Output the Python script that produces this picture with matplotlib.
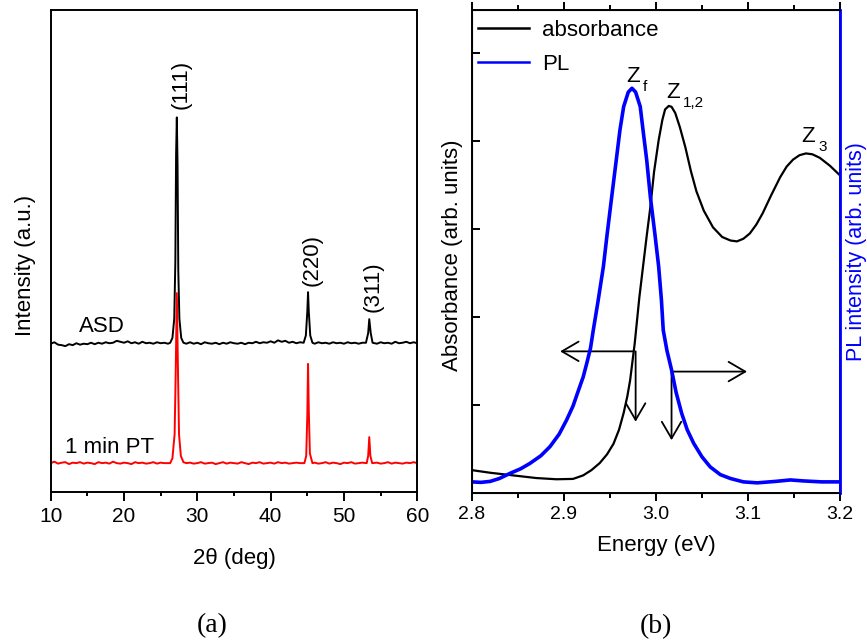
import numpy as np
import matplotlib
matplotlib.use('Agg')
import matplotlib.pyplot as plt

plt.rcParams['font.family'] = ['Liberation Sans', 'DejaVu Sans']

# ---- (a) XRD data (2theta in deg, intensity in a.u.) ----
asd_tt = [10.0, 10.5, 11.0, 11.5, 12.0, 12.5, 13.0, 13.5, 14.0, 14.5, 15.0, 15.5,
          16.0, 16.5, 17.0, 17.5, 18.0, 18.5, 19.0, 19.5, 20.0, 20.5, 21.0, 21.5,
          22.0, 22.5, 23.0, 23.5, 24.0, 24.5, 25.0, 25.5, 26.0, 26.3, 26.6, 26.85,
          27.0, 27.1, 27.2, 27.3, 27.4, 27.55, 27.8, 28.1, 28.5, 29.0, 29.5, 30.0,
          30.5, 31.0, 31.5, 32.0, 32.5, 33.0, 33.5, 34.0, 34.5, 35.0, 35.5, 36.0,
          36.5, 37.0, 37.5, 38.0, 38.5, 39.0, 39.5, 40.0, 40.5, 41.0, 41.5, 42.0,
          42.5, 43.0, 43.5, 44.0, 44.5, 44.8, 45.0, 45.1, 45.2, 45.4, 45.7, 46.0,
          46.5, 47.0, 47.5, 48.0, 48.5, 49.0, 49.5, 50.0, 50.5, 51.0, 51.5, 52.0,
          52.5, 53.0, 53.3, 53.45, 53.65, 53.9, 54.5, 55.0, 55.5, 56.0, 56.5, 57.0,
          57.5, 58.0, 58.5, 59.0, 59.5, 60.0]
asd_int = [30.8, 31.1, 30.6, 30.5, 30.3, 30.7, 30.5, 30.9, 30.6, 30.8, 30.7, 31.0,
           30.7, 31.0, 30.8, 31.1, 30.9, 31.0, 31.4, 31.2, 31.0, 31.3, 30.9, 31.1,
           30.8, 31.2, 30.9, 31.0, 30.8, 31.1, 30.9, 31.0, 30.8, 31.0, 32.0, 36.0,
           48.0, 70.0, 77.8, 68.0, 46.0, 36.0, 32.0, 31.0, 30.8, 31.1, 30.8, 31.0,
           30.7, 31.1, 30.9, 30.8, 31.0, 30.7, 31.0, 30.8, 31.1, 30.9, 30.8, 31.0,
           30.7, 31.0, 30.9, 31.2, 30.9, 31.1, 31.0, 31.3, 31.0, 31.5, 31.2, 31.4,
           31.0, 31.2, 30.9, 31.1, 31.0, 32.5, 37.5, 41.5, 37.5, 32.5, 31.0, 30.8,
           31.1, 30.9, 31.0, 30.8, 31.1, 30.9, 31.0, 30.8, 31.1, 30.9, 31.0, 30.8,
           31.0, 31.0, 33.0, 35.9, 33.0, 31.0, 30.8, 31.1, 30.9, 31.0, 30.8, 31.2,
           30.9, 31.0, 31.2, 30.9, 31.1, 30.9]

pt_tt = [10.0, 10.5, 11.0, 11.5, 12.0, 12.5, 13.0, 13.5, 14.0, 14.5, 15.0, 15.5,
         16.0, 16.5, 17.0, 17.5, 18.0, 18.5, 19.0, 19.5, 20.0, 20.5, 21.0, 21.5,
         22.0, 22.5, 23.0, 23.5, 24.0, 24.5, 25.0, 25.5, 26.0, 26.3, 26.6, 26.9,
         27.05, 27.2, 27.35, 27.5, 27.75, 28.1, 28.5, 29.0, 29.5, 30.0, 30.5, 31.0,
         31.5, 32.0, 32.5, 33.0, 33.5, 34.0, 34.5, 35.0, 35.5, 36.0, 36.5, 37.0,
         37.5, 38.0, 38.5, 39.0, 39.5, 40.0, 40.5, 41.0, 41.5, 42.0, 42.5, 43.0,
         43.5, 44.0, 44.6, 44.85, 45.0, 45.1, 45.2, 45.35, 45.7, 46.0, 46.5, 47.0,
         47.5, 48.0, 48.5, 49.0, 49.5, 50.0, 50.5, 51.0, 51.5, 52.0, 52.5, 53.1,
         53.3, 53.45, 53.6, 53.85, 54.5, 55.0, 55.5, 56.0, 56.5, 57.0, 57.5, 58.0,
         58.5, 59.0, 59.5, 60.0]
pt_int = [6.0, 6.3, 5.9, 6.1, 6.2, 5.8, 6.1, 6.0, 6.2, 5.9, 6.1, 6.0,
          5.8, 6.2, 6.0, 6.1, 5.9, 6.3, 6.0, 5.9, 6.1, 6.0, 5.8, 6.2,
          6.0, 6.1, 5.9, 6.0, 6.2, 5.9, 6.1, 6.0, 6.0, 6.0, 7.0, 12.0,
          25.0, 41.3, 26.0, 12.0, 7.5, 6.2, 6.0, 6.1, 5.9, 6.0, 6.2, 5.9,
          6.0, 6.1, 5.8, 6.0, 6.2, 5.9, 6.1, 6.0, 5.9, 6.2, 6.0, 5.8,
          6.1, 6.0, 6.2, 5.9, 6.0, 6.1, 5.9, 6.2, 6.0, 6.1, 5.9, 6.0,
          6.1, 6.0, 6.0, 7.5, 16.0, 26.6, 17.0, 8.0, 6.0, 6.1, 5.9, 6.0,
          6.2, 5.9, 6.1, 6.0, 5.8, 6.1, 6.0, 6.2, 5.9, 6.0, 6.1, 6.0,
          7.5, 11.4, 7.5, 6.0, 6.1, 5.9, 6.0, 6.2, 5.9, 6.1, 6.0, 5.9,
          6.1, 6.0, 6.2, 6.0]

# ---- (b) absorbance and PL ----
abs_e = [2.800, 2.820, 2.845, 2.870, 2.892, 2.910, 2.921, 2.930, 2.939, 2.947,
         2.954, 2.960, 2.965, 2.969, 2.972, 2.977, 2.982, 2.986, 2.990, 2.994,
         2.998, 3.003, 3.007, 3.010, 3.014, 3.017, 3.021, 3.026, 3.032, 3.038,
         3.044, 3.052, 3.062, 3.072, 3.081, 3.088, 3.095, 3.102, 3.109, 3.116,
         3.125, 3.135, 3.142, 3.149, 3.156, 3.163, 3.170, 3.178, 3.189, 3.200]
abs_val = [0.026, 0.023, 0.020, 0.017, 0.0156, 0.016, 0.020, 0.026, 0.034, 0.044,
           0.056, 0.072, 0.091, 0.110, 0.128, 0.170, 0.222, 0.257, 0.292, 0.325,
           0.365, 0.401, 0.424, 0.436, 0.440, 0.439, 0.432, 0.416, 0.393, 0.366,
           0.343, 0.321, 0.302, 0.291, 0.287, 0.286, 0.289, 0.295, 0.305, 0.318,
           0.338, 0.359, 0.371, 0.379, 0.384, 0.386, 0.385, 0.381, 0.372, 0.361]

pl_e = [2.800, 2.810, 2.820, 2.830, 2.842, 2.853, 2.863, 2.875, 2.885, 2.895,
        2.903, 2.910, 2.916, 2.921, 2.925, 2.929, 2.932, 2.937, 2.943, 2.947,
        2.952, 2.957, 2.961, 2.965, 2.970, 2.974, 2.978, 2.983, 2.986, 2.990,
        2.994, 2.999, 3.003, 3.006, 3.008, 3.012, 3.017, 3.022, 3.028, 3.034,
        3.041, 3.050, 3.059, 3.070, 3.081, 3.095, 3.110, 3.130, 3.146, 3.160,
        3.180, 3.200]
pl_val = [0.023, 0.022, 0.024, 0.030, 0.041, 0.050, 0.061, 0.077, 0.096, 0.122,
          0.151, 0.180, 0.213, 0.240, 0.269, 0.300, 0.337, 0.395, 0.469, 0.535,
          0.613, 0.690, 0.752, 0.800, 0.830, 0.838, 0.830, 0.800, 0.752, 0.690,
          0.613, 0.535, 0.469, 0.400, 0.337, 0.295, 0.255, 0.208, 0.165, 0.131,
          0.103, 0.075, 0.054, 0.038, 0.030, 0.023, 0.021, 0.024, 0.027, 0.025,
          0.023, 0.023]

fig = plt.figure(figsize=(8.67, 6.43), dpi=100)

# ================= panel (a) =================
axa = fig.add_axes([0.0585, 0.2348, 0.4228, 0.7489])
axa.plot(asd_tt, asd_int, color='black', lw=1.4)
axa.plot(pt_tt, pt_int, color='red', lw=1.4)
axa.set_xlim(10, 60)
axa.set_ylim(0, 100)
axa.set_xticks([10, 20, 30, 40, 50, 60])
axa.set_xticks([15, 25, 35, 45, 55], minor=True)
axa.set_yticks([])
axa.tick_params(axis='x', which='major', direction='out', length=6.5, width=1.4,
                labelsize=15, pad=4)
axa.tick_params(axis='x', which='minor', direction='out', length=3.2, width=1.4)
for s in axa.spines.values():
    s.set_linewidth(1.4)
axa.set_xlabel('2θ (deg)', fontsize=16)
axa.xaxis.set_label_coords(0.5, -0.117)
axa.set_ylabel('Intensity (a.u.)', fontsize=16)
axa.yaxis.set_label_coords(-0.04, 0.471)

axa.text(27.8, 79.5, '(111)', rotation=90, ha='center', va='bottom', fontsize=16)
axa.text(45.7, 42.8, '(220)', rotation=90, ha='center', va='bottom', fontsize=16)
axa.text(53.95, 37.4, '(311)', rotation=90, ha='center', va='bottom', fontsize=16)
axa.text(13.86, 33.2, 'ASD', ha='left', va='baseline', fontsize=16)
axa.text(11.95, 8.1, '1 min PT', ha='left', va='baseline', fontsize=16)

# ================= panel (b) =================
axb = fig.add_axes([0.5441, 0.2333, 0.4248, 0.7511])
l1, = axb.plot(abs_e, abs_val, color='black', lw=1.6, label='absorbance')
axb.set_xlim(2.8, 3.2)
axb.set_ylim(0, 0.549)
axb.set_xticks([2.8, 2.9, 3.0, 3.1, 3.2])
axb.set_xticklabels(['2.8', '2.9', '3.0', '3.1', '3.2'])
axb.set_xticks([2.85, 2.95, 3.05, 3.15], minor=True)
axb.set_yticks([0.1, 0.2, 0.3, 0.4, 0.5])
axb.set_yticklabels([])
axb.tick_params(axis='x', which='major', direction='out', length=6, width=1.4,
                labelsize=14, pad=3.5, top=True)
axb.tick_params(axis='x', which='minor', direction='out', length=3.5, width=1.4, top=True)
axb.tick_params(axis='y', direction='in', length=6, width=1.4)
for s in axb.spines.values():
    s.set_linewidth(1.4)
axb.set_xlabel('Energy (eV)', fontsize=16)
axb.xaxis.set_label_coords(0.5, -0.088)
axb.set_ylabel('Absorbance (arb. units)', fontsize=16)
axb.yaxis.set_label_coords(-0.023, 0.493)

axr = axb.twinx()
l2, = axr.plot(pl_e, pl_val, color='blue', lw=2.6, label='PL')
axr.set_ylim(0, 1)
axr.set_yticks([])
axr.spines['right'].set_color('blue')
axr.spines['right'].set_linewidth(2)
axr.set_ylabel('PL intensity (arb. units)', fontsize=15.5, color='blue')
axr.yaxis.set_label_coords(1.016, 0.5)

leg = axr.legend([l1, l2], ['absorbance', 'PL'], loc='upper left', frameon=False,
                 fontsize=16, borderaxespad=0, borderpad=0, handlelength=2.3,
                 handletextpad=0.6, labelspacing=0.6, bbox_to_anchor=(0.017, 0.98))
for h in leg.get_lines():
    h.set_linewidth(1.8)

# peak labels: Z plus a lowered subscript
zlabels = [(2.968, 0.467, 'f'), (3.011, 0.449, '1,2'), (3.158, 0.399, '3')]
for ze, zv, sub in zlabels:
    axb.text(ze, zv, 'Z', ha='left', va='baseline', fontsize=16)
    axb.annotate(sub, xy=(ze, zv), xytext=(12, -6.5), textcoords='offset points',
                 ha='left', va='baseline', fontsize=11)

arrow = dict(arrowstyle='->,head_length=0.6,head_width=0.35', color='black',
             lw=1.3, mutation_scale=20, shrinkA=0, shrinkB=0)
axb.annotate('', xy=(2.896, 0.161), xytext=(2.9755, 0.161), arrowprops=arrow)
axb.annotate('', xy=(2.978, 0.081), xytext=(2.978, 0.161), arrowprops=arrow)
axb.annotate('', xy=(3.099, 0.138), xytext=(3.017, 0.138), arrowprops=arrow)
axb.annotate('', xy=(3.017, 0.060), xytext=(3.017, 0.138), arrowprops=arrow)

fig.text(212 / 867, 1 - 626 / 643, '(a)', ha='center', va='center', fontsize=20,
         family=['Liberation Serif'])
fig.text(656 / 867, 1 - 627 / 643, '(b)', ha='center', va='center', fontsize=20,
         family=['Liberation Serif'])

fig.savefig('out.png', dpi=100)
